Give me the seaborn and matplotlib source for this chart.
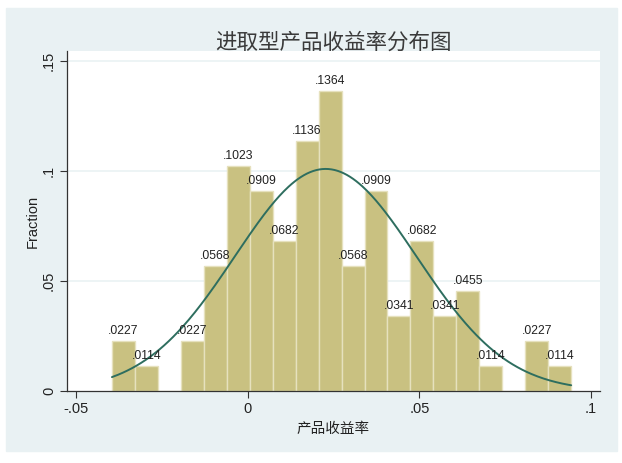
import numpy as np
import pandas as pd
import matplotlib
matplotlib.use("Agg")
import matplotlib.pyplot as plt
import seaborn as sns
from matplotlib.patches import Rectangle

# 数据：各组占比（n=88），组宽约 .00669
n_obs = 88
bin_start = -0.0396
bin_width = 0.00669
fractions = [.0227, .0114, 0, .0227, .0568, .1023, .0909, .0682, .1136, .1364,
             .0568, .0909, .0341, .0682, .0341, .0455, .0114, 0, .0227, .0114]
x_ticks = [-0.05, 0, 0.05, 0.1]
x_ticklabels = ['-.05', '0', '.05', '.1']
y_ticks = [0, 0.05, 0.1, 0.15]
y_ticklabels = ['0', '.05', '.1', '.15']

sns.set_style("white")
plt.rcParams['font.family'] = ['Liberation Sans', 'Noto Sans CJK SC', 'DejaVu Sans']

edges = bin_start + bin_width * np.arange(len(fractions) + 1)
centers = (edges[:-1] + edges[1:]) / 2
counts = np.rint(np.array(fractions) * n_obs).astype(int)
df = pd.DataFrame({'ret': np.repeat(centers, counts)})

fig = plt.figure(figsize=(6.22, 4.63), dpi=100, facecolor='white')
# Stata 风格的外框背景
bg = Rectangle((6 / 622, 1 - 451 / 463), 611 / 622, 443 / 463,
               transform=fig.transFigure, color='#E9F1F3', zorder=-10)
fig.add_artist(bg)
ax = fig.add_axes([67 / 622, 1 - 391 / 463, 533 / 622, 340 / 463])
ax.set_facecolor('white')

for yv in y_ticks[1:]:
    ax.axhline(yv, color='#EAF2F3', lw=1.2, zorder=0)

sns.histplot(data=df, x='ret', bins=list(edges), stat='probability', ax=ax,
             color='#C9C181', alpha=1, edgecolor='#E6E1BE', linewidth=1, zorder=2)

# 正态曲线
mu = df.ret.mean()
sd = df.ret.std()
xs = np.linspace(edges[0], edges[-1], 300)
ys = bin_width * np.exp(-0.5 * ((xs - mu) / sd) ** 2) / (sd * np.sqrt(2 * np.pi))
ax.plot(xs, ys, color='#2E6E5F', lw=1.4, zorder=3)

labels = ['.' + f'{v:.4f}'.split('.')[1] if v > 0 else '' for v in fractions]
ax.bar_label(ax.containers[0], labels=labels, padding=3, fontsize=8.8,
             color='#222222', zorder=4)

ax.set_xlim(-0.0527, 0.1026)
ax.set_ylim(0, 0.1545)
ax.set_xticks(x_ticks)
ax.set_xticklabels(x_ticklabels, fontsize=10.5)
ax.set_yticks(y_ticks)
ax.set_yticklabels(y_ticklabels, fontsize=10.5, rotation=90, va='center')
ax.tick_params(axis='both', direction='out', length=5, width=0.8, color='#333333',
               labelcolor='#222222', pad=3)
ax.tick_params(axis='x', bottom=True)
ax.tick_params(axis='y', left=True)
for s in ['top', 'right']:
    ax.spines[s].set_visible(False)
for s in ['left', 'bottom']:
    ax.spines[s].set_color('#333333')
    ax.spines[s].set_linewidth(0.9)

ax.set_xlabel('产品收益率', fontsize=10.5, color='#222222', labelpad=4)
ax.set_ylabel('Fraction', fontsize=10.5, color='#222222', labelpad=1.5)
ax.set_title('进取型产品收益率分布图', fontsize=15.5, color='#3A3A3A', pad=2)

fig.savefig('out.png', dpi=100, facecolor='white')
